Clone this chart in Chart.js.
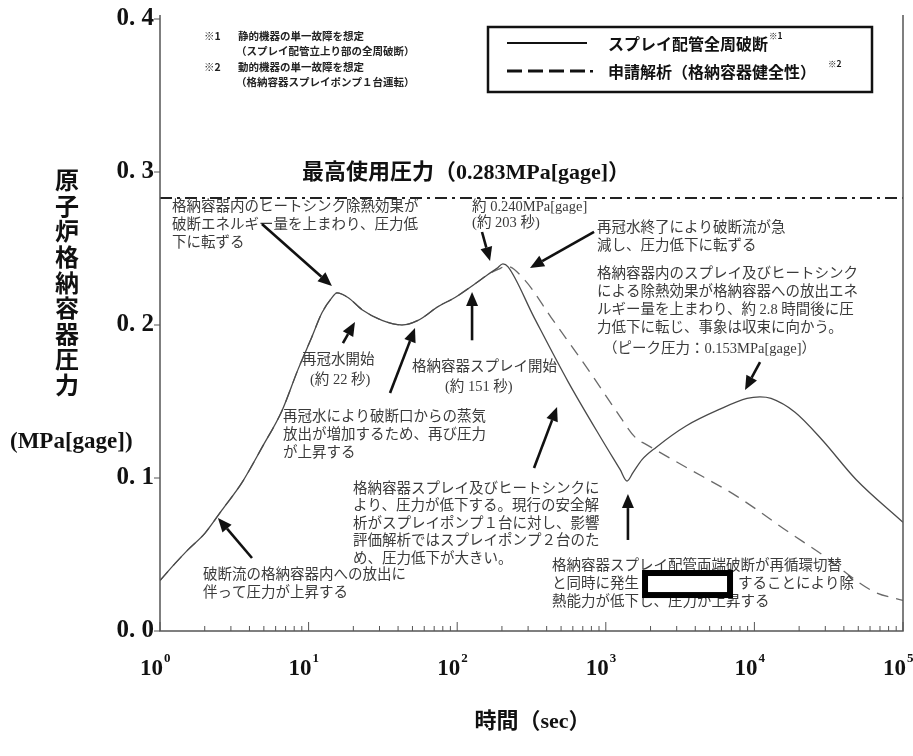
<!DOCTYPE html>
<html>
<head>
<meta charset="utf-8">
<script src="https://cdn.jsdelivr.net/npm/chart.js@4.4.1/dist/chart.umd.min.js"></script>
<style>
  html, body { margin: 0; padding: 0; background: #fff; }
  #wrap { width: 913px; height: 756px; }
</style>
</head>
<body>
<div id="wrap"><canvas id="chart" width="913" height="756"></canvas></div>
<script>
// Containment pressure after a spray-pipe break (time in s, pressure in MPa[gage])
const fullBreakTime = [1, 1.26, 1.54, 2.01, 2.61, 3.56, 4.86, 6.62, 8.49, 10.5, 12.3, 14.4, 15.5, 18.4, 22.9, 31.2, 42.5, 54.5, 74.3, 96.7, 132, 161, 185, 203, 220, 329, 557, 943, 1247, 1390, 1524, 1753, 2177, 3466, 5866, 8920, 10900, 12940, 18760, 28500, 48300, 100000];
const fullBreakPressure = [0.033, 0.044, 0.053, 0.064, 0.079, 0.097, 0.120, 0.144, 0.171, 0.192, 0.208, 0.218, 0.221, 0.218, 0.210, 0.203, 0.200, 0.203, 0.212, 0.218, 0.227, 0.233, 0.237, 0.240, 0.238, 0.205, 0.163, 0.125, 0.1056, 0.098, 0.1035, 0.112, 0.120, 0.134, 0.145, 0.152, 0.153, 0.152, 0.143, 0.125, 0.099, 0.071];

// licensing analysis (containment integrity)
const licenseTime = [1, 1.26, 1.54, 2.01, 2.61, 3.56, 4.86, 6.62, 8.49, 10.5, 12.3, 14.4, 15.5, 18.4, 22.9, 31.2, 42.5, 54.5, 74.3, 96.7, 132, 161, 190, 215, 287, 428, 759, 1153, 1597, 1865, 3466, 7640, 16800, 28500, 62800, 100000];
const licensePressure = [0.033, 0.044, 0.053, 0.064, 0.079, 0.097, 0.120, 0.144, 0.171, 0.192, 0.208, 0.218, 0.221, 0.218, 0.210, 0.203, 0.200, 0.203, 0.212, 0.218, 0.227, 0.233, 0.2365, 0.2385, 0.229, 0.205, 0.171, 0.145, 0.126, 0.122, 0.107, 0.088, 0.065, 0.050, 0.026, 0.020];

const MAX_PRESSURE = 0.283;
const X_DECADES = [0, 1, 2, 3, 4, 5];
const Y_TICKS = [0, 0.1, 0.2, 0.3, 0.4];
const Y_LABELS = ['0.0', '0.1', '0.2', '0.3', '0.4'];
const LEGEND_LABELS = ['スプレイ配管全周破断', '申請解析（格納容器健全性）'];
const LEGEND_MARKS = ['※1', '※2'];
const NOTES = [
  ['※1', '静的機器の単一故障を想定'],
  ['', '（スプレイ配管立上り部の全周破断）'],
  ['※2', '動的機器の単一故障を想定'],
  ['', '（格納容器スプレイポンプ１台運転）']
];

const SERIF = '"Liberation Serif", "Noto Sans CJK JP", serif';
const TXT = '#3a3a3a';

// annotation text blocks: [decade, pressure, line height, lines]
const notesOnPlot = [
  [0.081, 0.277, 18, ['格納容器内のヒートシンク除熱効果が', '破断エネルギー量を上まわり、圧力低', '下に転ずる']],
  [2.10, 0.277, 16, ['約 0.240MPa[gage]', '(約 203 秒)']],
  [2.941, 0.263, 18, ['再冠水終了により破断流が急', '減し、圧力低下に転ずる']],
  [2.941, 0.233, 18, ['格納容器内のスプレイ及びヒートシンク', 'による除熱効果が格納容器への放出エネ', 'ルギー量を上まわり、約 2.8 時間後に圧', '力低下に転じ、事象は収束に向かう。']],
  [2.981, 0.184, 18, ['（ピーク圧力：0.153MPa[gage]）']],
  [0.956, 0.177, 18, ['再冠水開始']],
  [1.009, 0.164, 18, ['(約 22 秒)']],
  [1.696, 0.1725, 18, ['格納容器スプレイ開始']],
  [1.918, 0.1595, 18, ['(約 151 秒)']],
  [0.828, 0.140, 18, ['再冠水により破断口からの蒸気', '放出が増加するため、再び圧力', 'が上昇する']],
  [1.299, 0.0928, 17.5, ['格納容器スプレイ及びヒートシンクに', 'より、圧力が低下する。現行の安全解', '析がスプレイポンプ１台に対し、影響', '評価解析ではスプレイポンプ２台のた', 'め、圧力低下が大きい。']],
  [0.289, 0.0366, 18, ['破断流の格納容器内への放出に', '伴って圧力が上昇する']],
  [2.638, 0.0425, 18, ['格納容器スプレイ配管両端破断が再循環切替', 'と同時に発生', '熱能力が低下し、圧力が上昇する']],
  [3.890, 0.0307, 18, ['することにより除']]
];

// arrows: [tail decade, tail pressure, tip decade, tip pressure]
const arrows = [
  [0.686, 0.266, 1.157, 0.2255],
  [2.167, 0.2608, 2.221, 0.2418],
  [2.921, 0.2608, 2.490, 0.2373],
  [4.038, 0.1758, 3.937, 0.1575],
  [1.231, 0.1882, 1.312, 0.202],
  [1.548, 0.1556, 1.716, 0.198],
  [2.100, 0.190, 2.100, 0.2216],
  [2.517, 0.1065, 2.672, 0.1464],
  [3.149, 0.0595, 3.149, 0.0895],
  [0.619, 0.0477, 0.390, 0.0739]
];

// masked region in the original figure
const maskBox = [3.264, 0.0379, 3.836, 0.0235];

const toPoints = (xs, ys) => xs.map((t, i) => ({ x: t, y: ys[i] }));

const overlay = {
  id: 'overlay',
  afterDraw(chart) {
    const { ctx, chartArea: a, scales: { x, y } } = chart;
    const X = d => x.getPixelForValue(Math.pow(10, d));
    const Y = p => y.getPixelForValue(p);
    ctx.save();

    // frame
    ctx.strokeStyle = '#555';
    ctx.lineWidth = 1.5;
    ctx.beginPath();
    ctx.moveTo(a.left, a.top - 4);
    ctx.lineTo(a.left, a.bottom);
    ctx.lineTo(a.right, a.bottom);
    ctx.lineTo(a.right, a.top - 4);
    ctx.stroke();

    // x ticks (inside) and labels
    ctx.lineWidth = 1;
    X_DECADES.forEach(d => {
      const px = X(d);
      ctx.beginPath();
      ctx.moveTo(px, a.bottom);
      ctx.lineTo(px, a.bottom - 9);
      ctx.stroke();
      if (d < X_DECADES[X_DECADES.length - 1]) {
        for (let m = 2; m <= 9; m++) {
          const mx = X(d + Math.log10(m));
          ctx.beginPath();
          ctx.moveTo(mx, a.bottom);
          ctx.lineTo(mx, a.bottom - 5);
          ctx.stroke();
        }
      }
      ctx.fillStyle = '#111';
      ctx.textBaseline = 'alphabetic';
      ctx.textAlign = 'left';
      ctx.font = 'bold 23px ' + SERIF;
      ctx.fillText('10', px - 20, a.bottom + 44);
      ctx.font = 'bold 13px ' + SERIF;
      ctx.fillText(String(d), px + 4, a.bottom + 31);
    });

    // y ticks (outside) and labels
    ctx.font = 'bold 25px ' + SERIF;
    ctx.textAlign = 'right';
    ctx.textBaseline = 'middle';
    Y_TICKS.forEach((v, i) => {
      const py = Y(v);
      ctx.beginPath();
      ctx.moveTo(a.left, py);
      ctx.lineTo(a.left - 6, py);
      ctx.stroke();
      ctx.fillText(Y_LABELS[i].replace('.', '. '), a.left - 6, py);
    });

    // axis titles
    ctx.font = 'bold 24px ' + SERIF;
    ctx.textAlign = 'center';
    ctx.fillStyle = '#111';
    const yTitle = '原子炉格納容器圧力';
    [...yTitle].forEach((ch, i) => ctx.fillText(ch, 67, 183 + i * 25.6));
    ctx.font = 'bold 23px ' + SERIF;
    ctx.textAlign = 'left';
    ctx.fillText('(MPa[gage])', 10, 442);
    ctx.font = 'bold 22px ' + SERIF;
    ctx.textAlign = 'center';
    ctx.fillText('時間（sec）', (a.left + a.right) / 2 + 1, 722);

    // max working pressure label
    ctx.font = 'bold 22px ' + SERIF;
    ctx.textAlign = 'left';
    ctx.fillText('最高使用圧力（0.283MPa[gage]）', 302, Y(MAX_PRESSURE) - 25);

    // notes top-left
    ctx.font = 'bold 10.5px "Noto Sans CJK JP", sans-serif';
    ctx.fillStyle = '#222';
    NOTES.forEach((n, i) => {
      const yy = 36 + i * 15.5;
      if (n[0]) ctx.fillText(n[0], 204, yy);
      ctx.fillText(n[1], n[0] ? 238 : 236, yy);
    });

    // legend box
    ctx.strokeStyle = '#111';
    ctx.lineWidth = 2.5;
    ctx.strokeRect(488, 27, 384, 65);
    ctx.lineWidth = 2;
    ctx.beginPath();
    ctx.moveTo(507, 43); ctx.lineTo(587, 43);
    ctx.stroke();
    ctx.lineWidth = 3;
    for (let k = 0; k < 4; k++) {
      ctx.beginPath();
      ctx.moveTo(507 + k * 21, 71); ctx.lineTo(522 + k * 21, 71);
      ctx.stroke();
    }
    ctx.fillStyle = '#111';
    ctx.fillRect(590, 70, 3, 2.5);
    ctx.textAlign = 'left';
    LEGEND_LABELS.forEach((lab, i) => {
      const yy = i === 0 ? 44 : 72;
      ctx.font = 'bold 16px "Noto Sans CJK JP", sans-serif';
      ctx.fillText(lab, 608, yy);
      const w = ctx.measureText(lab).width;
      ctx.font = 'bold 8.5px "Noto Sans CJK JP", sans-serif';
      ctx.fillText(LEGEND_MARKS[i], 608 + w + (i === 0 ? 1 : 12), yy - 8);
    });

    // annotation texts
    ctx.fillStyle = TXT;
    ctx.font = '14.5px ' + SERIF;
    ctx.textAlign = 'left';
    ctx.textBaseline = 'middle';
    notesOnPlot.forEach(([d, p, lh, lines]) => {
      const x0 = X(d), y0 = Y(p);
      lines.forEach((ln, i) => ctx.fillText(ln, x0, y0 + i * lh));
    });

    // masked box
    ctx.strokeStyle = '#000';
    ctx.lineWidth = 6;
    const bx0 = X(maskBox[0]), by0 = Y(maskBox[1]), bx1 = X(maskBox[2]), by1 = Y(maskBox[3]);
    ctx.fillStyle = '#fff';
    ctx.fillRect(bx0, by0, bx1 - bx0, by1 - by0);
    ctx.strokeRect(bx0, by0, bx1 - bx0, by1 - by0);

    // arrows
    ctx.strokeStyle = '#111';
    ctx.fillStyle = '#111';
    arrows.forEach(([d0, p0, d1, p1]) => {
      const x0 = X(d0), y0 = Y(p0), x1 = X(d1), y1 = Y(p1);
      const ang = Math.atan2(y1 - y0, x1 - x0);
      const hl = 14, hw = 6;
      const bx = x1 - hl * Math.cos(ang), by = y1 - hl * Math.sin(ang);
      ctx.lineWidth = 2.6;
      ctx.beginPath();
      ctx.moveTo(x0, y0); ctx.lineTo(bx, by);
      ctx.stroke();
      ctx.beginPath();
      ctx.moveTo(x1, y1);
      ctx.lineTo(bx + hw * Math.sin(ang), by - hw * Math.cos(ang));
      ctx.lineTo(bx - hw * Math.sin(ang), by + hw * Math.cos(ang));
      ctx.closePath();
      ctx.fill();
    });

    ctx.restore();
  }
};

new Chart(document.getElementById('chart'), {
  type: 'line',
  data: {
    datasets: [
      {
        label: LEGEND_LABELS[0],
        data: toPoints(fullBreakTime, fullBreakPressure),
        borderColor: '#4a4a4a',
        borderWidth: 1.3,
        pointRadius: 0,
        cubicInterpolationMode: 'monotone',
        order: 1
      },
      {
        label: LEGEND_LABELS[1],
        data: toPoints(licenseTime, licensePressure),
        borderColor: '#6a6a6a',
        borderWidth: 1.3,
        borderDash: [12, 8],
        pointRadius: 0,
        cubicInterpolationMode: 'monotone',
        order: 2
      },
      {
        label: '最高使用圧力',
        data: [{ x: 1, y: MAX_PRESSURE }, { x: 100000, y: MAX_PRESSURE }],
        borderColor: '#222',
        borderWidth: 2.2,
        borderDash: [12, 5, 3, 5],
        pointRadius: 0,
        order: 3
      }
    ]
  },
  options: {
    responsive: false,
    animation: false,
    devicePixelRatio: 1,
    layout: { padding: { left: 160, right: 10, top: 19, bottom: 125 } },
    plugins: { legend: { display: false }, tooltip: { enabled: false } },
    scales: {
      x: { type: 'logarithmic', min: 1, max: 100000, display: false },
      y: { type: 'linear', min: 0, max: 0.4, display: false }
    }
  },
  plugins: [overlay]
});
</script>
</body>
</html>
